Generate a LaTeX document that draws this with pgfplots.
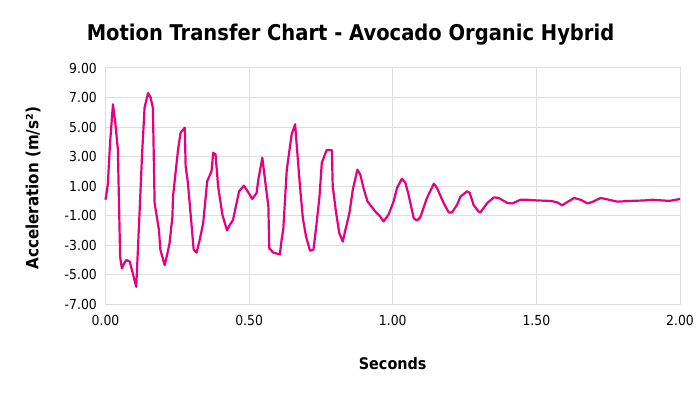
\documentclass[border=0pt]{standalone}
\usepackage{fontspec}
\setmainfont{DejaVu Sans Condensed}
\usepackage{pgfplots}
\pgfplotsset{compat=1.18}
\definecolor{linec}{RGB}{230,0,126}
\definecolor{gridc}{RGB}{222,222,222}
\begin{document}
\begin{tikzpicture}
\useasboundingbox (-105.5pt,-89.7pt) rectangle (594.5pt,304.3pt);
\begin{axis}[
  scale only axis, width=574.5pt, height=236.3pt,
  at={(0pt,0pt)}, anchor=south west,
  xmin=0, xmax=2, ymin=-7, ymax=9,
  xtick={0,0.5,1,1.5,2},
  xticklabels={0.00,0.50,1.00,1.50,2.00},
  ytick={-7,-5,-3,-1,1,3,5,7,9},
  yticklabels={-7.00,-5.00,-3.00,-1.00,1.00,3.00,5.00,7.00,9.00},
  major tick length=0pt,
  grid=major,
  grid style={gridc, line width=1pt},
  axis line style={gridc, line width=1pt},
  ticklabel style={font=\fontsize{13.8}{14}\selectfont},
  xticklabel style={anchor=center, yshift=-16.4pt},
  yticklabel style={anchor=east, inner sep=0pt, xshift=-8.5pt},
  clip=false,
]
\addplot[linec, line width=2.2pt, line join=round] coordinates {
(0,0.08) (0.008,1.1) (0.016,3.96) (0.026,6.55) (0.034,5.3) (0.043,3.5)
(0.051,-3.8) (0.057,-4.57) (0.063,-4.3) (0.072,-4.0) (0.084,-4.1) (0.095,-4.9)
(0.107,-5.82) (0.119,-0.6) (0.127,3.03) (0.136,6.32) (0.148,7.3) (0.157,7.0)
(0.165,6.3) (0.171,-0.15) (0.186,-1.96) (0.191,-3.3) (0.206,-4.35) (0.215,-3.6)
(0.223,-2.87) (0.233,-1.05) (0.235,0.3) (0.252,3.37) (0.261,4.6) (0.276,4.96)
(0.279,2.35) (0.287,1.2) (0.307,-3.3) (0.317,-3.5) (0.328,-2.64) (0.34,-1.5)
(0.354,1.33) (0.369,2.0) (0.375,3.26) (0.383,3.15) (0.392,1.0) (0.407,-0.94)
(0.423,-2.0) (0.433,-1.62) (0.444,-1.28) (0.465,0.65) (0.482,1.03) (0.493,0.71)
(0.511,0.13) (0.526,0.54) (0.532,1.44) (0.546,2.92) (0.558,1.0) (0.567,-0.37)
(0.57,-3.2) (0.584,-3.5) (0.607,-3.62) (0.613,-2.64) (0.619,-1.9) (0.631,2.1)
(0.648,4.5) (0.66,5.19) (0.666,3.7) (0.677,1.0) (0.687,-1.17) (0.698,-2.4)
(0.712,-3.37) (0.724,-3.3) (0.735,-1.5) (0.745,0.3) (0.753,2.58) (0.764,3.15)
(0.77,3.44) (0.788,3.44) (0.791,1.0) (0.803,-0.83) (0.814,-2.19) (0.826,-2.75)
(0.838,-1.73) (0.849,-0.83) (0.861,0.76) (0.877,2.12) (0.887,1.78) (0.898,0.88)
(0.912,-0.03) (0.939,-0.71) (0.956,-1.05) (0.968,-1.39) (0.985,-0.94) (1.003,-0.03)
(1.015,0.88) (1.032,1.51) (1.044,1.22) (1.055,0.42) (1.073,-1.17) (1.084,-1.33)
(1.096,-1.1) (1.119,0.2) (1.143,1.17) (1.154,0.88) (1.177,-0.14) (1.195,-0.78)
(1.206,-0.78) (1.224,-0.26) (1.236,0.3) (1.259,0.65) (1.268,0.54) (1.282,-0.3)
(1.299,-0.72) (1.305,-0.78) (1.329,-0.14) (1.352,0.24) (1.369,0.2) (1.399,-0.14)
(1.416,-0.17) (1.445,0.08) (1.468,0.08) (1.503,0.03) (1.55,0.0) (1.573,-0.1)
(1.59,-0.3) (1.608,-0.07) (1.631,0.2) (1.654,0.08) (1.678,-0.17) (1.695,-0.07)
(1.724,0.2) (1.741,0.13) (1.782,-0.05) (1.829,0.0) (1.875,0.03) (1.904,0.08)
(1.963,0.0) (2.0,0.13)
};
\end{axis}
\node[font=\bfseries\fontsize{21.7}{24}\selectfont] at (245pt,269.3pt) {Motion Transfer Chart - Avocado Organic Hybrid};
\node[font=\bfseries\fontsize{16}{18}\selectfont] at (287.2pt,-59.7pt) {Seconds};
\node[font=\bfseries\fontsize{16.8}{18}\selectfont, rotate=90] at (-72.5pt,116pt) {Acceleration (m/s²)};
\end{tikzpicture}
\end{document}
